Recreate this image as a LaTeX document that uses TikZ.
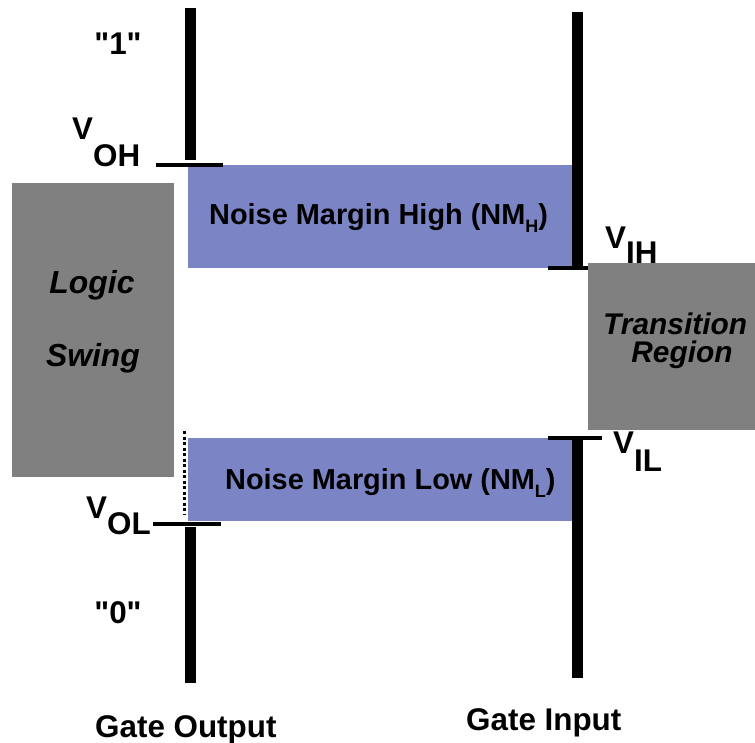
\documentclass[tikz,border=0pt]{standalone}
\usepackage{fontspec}
\setmainfont{Liberation Sans}
\newfontfamily\quotefont{Liberation Sans}[Ligatures=ResetAll]
\definecolor{marginblue}{HTML}{7B84C4}
\definecolor{swinggray}{HTML}{808080}
\tikzset{
  lbl/.style={font=\fontsize{29}{34}\selectfont\bfseries, inner sep=0pt},
  biglbl/.style={font=\fontsize{31.5}{36}\selectfont\bfseries, inner sep=0pt},
  ilbl/.style={font=\fontsize{32}{36}\selectfont\bfseries\itshape, inner sep=0pt},
  tlbl/.style={font=\fontsize{30}{34}\selectfont\bfseries\itshape, inner sep=0pt},
  bar/.style={line width=11bp},
  tick/.style={line width=4bp},
  region/.style={fill=swinggray},
  margin/.style={fill=marginblue},
}
\newcommand{\nmsub}[1]{\raisebox{-8bp}{\fontsize{18}{20}\selectfont #1}}
\newcommand{\qlevel}[1]{{\quotefont"#1"}}
\begin{document}
\begin{tikzpicture}[x=1bp, y=-1bp]
    \useasboundingbox (0,0) rectangle (755,743);
    % grey regions
    \fill[region] (12,183) rectangle (174,477);
    \fill[region] (588,263) rectangle (770,430);
    % noise margins
    \fill[margin] (188,165) rectangle (572,268);
    \fill[margin] (188,438) rectangle (572,521);
    % output and input lines
    \draw[bar] (190.5,8) -- (190.5,160);
    \draw[bar] (190.5,527) -- (190.5,683);
    \draw[bar] (577.5,12) -- (577.5,268);
    \draw[bar] (577.5,437) -- (577.5,678);
    % level marks
    \draw[tick] (156,165) -- (223,165);
    \draw[tick] (153,524) -- (221,524);
    \draw[tick] (548,267.5) -- (588,267.5);
    \draw[tick] (548,437.5) -- (602,437.5);
    \draw[line width=3bp, dash pattern=on 3bp off 2.5bp] (184.5,431) -- (184.5,515);
    % levels
    \node[biglbl, anchor=base] (one) at (118,55) {\qlevel{1}};
    \node[biglbl, anchor=base] (zero) at (118,623) {\qlevel{0}};
    \node[biglbl, anchor=base west] (voh) at (72,139) {V\raisebox{-27bp}{OH}};
    \node[biglbl, anchor=base west] (vol) at (86,518) {V\raisebox{-16bp}{OL}};
    \node[biglbl, anchor=base west] (vih) at (605,248) {V\raisebox{-15bp}{IH}};
    \node[biglbl, anchor=base west] (vil) at (613,453) {V\raisebox{-18bp}{IL}};
    % margins
    \node[lbl, anchor=base west] (nmh) at (209,224) {Noise Margin High (NM\nmsub{H})};
    \node[lbl, anchor=base west] (nml) at (225,489) {Noise Margin Low (NM\nmsub{L})};
    % regions
    \node[ilbl, anchor=base] (logic) at (92,293) {Logic};
    \node[ilbl, anchor=base] (swing) at (93,366) {Swing};
    \node[tlbl, anchor=base west] (trans) at (603,334) {Transition};
    \node[tlbl, anchor=base] (reg) at (682,362) {Region};
    % gates
    \node[biglbl, anchor=base west] (gout) at (95,737) {Gate Output};
    \node[biglbl, anchor=base west] (gin) at (466,730) {Gate Input};
\end{tikzpicture}
\end{document}
